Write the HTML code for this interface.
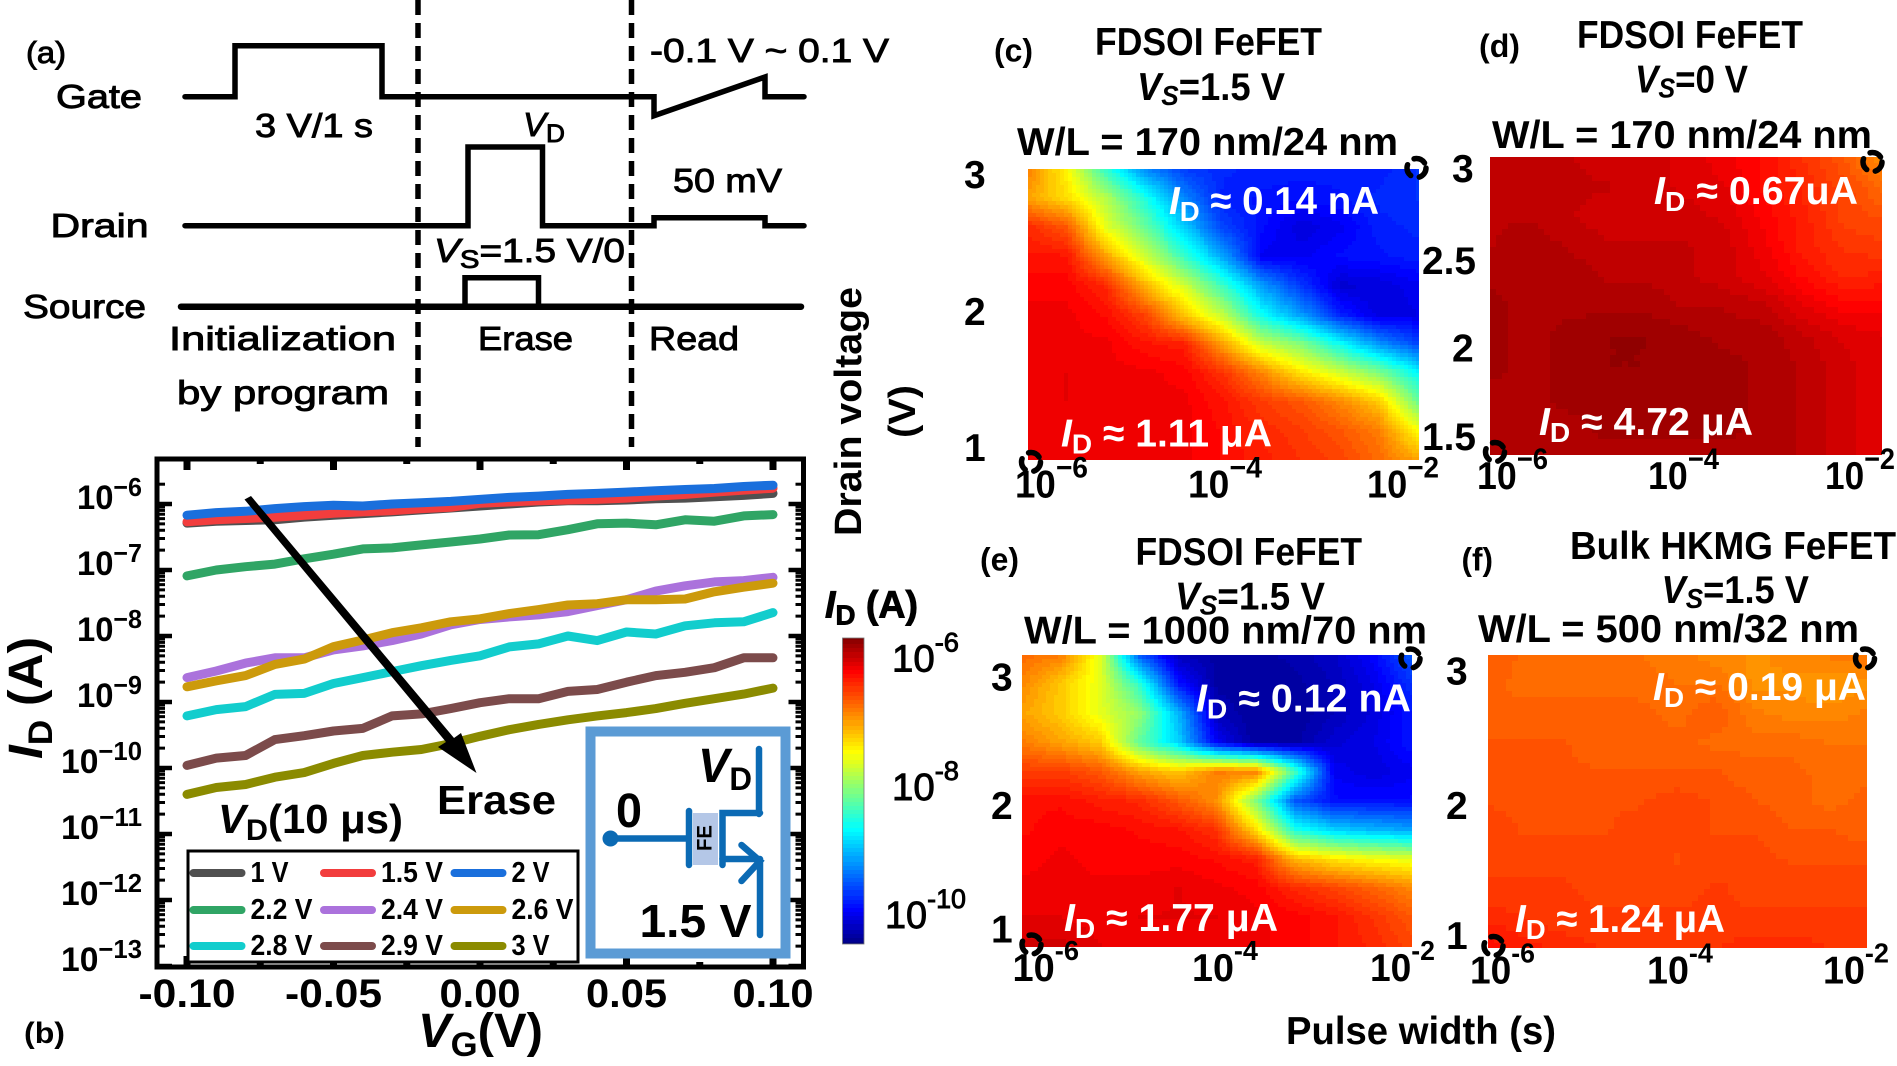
<!DOCTYPE html>
<html lang="en">
<head>
<meta charset="utf-8">
<title>FeFET erase characterization</title>
<style>
html,body{margin:0;padding:0;background:#fff;}
svg{display:block;font-family:"Liberation Sans",sans-serif;}
text{fill:#000;}
.r{stroke:#000;stroke-width:.9;}
.b{font-weight:bold;}
.w{fill:#fff;font-weight:bold;}
.i{font-style:italic;}
</style>
</head>
<body>
<svg id="figure" xmlns="http://www.w3.org/2000/svg" width="1897" height="1066" viewBox="0 0 1897 1066">

<g id="heat-c"></g>
<g id="heat-d"></g>
<g id="heat-e"></g>
<g id="heat-f"></g>
<g id="colorbar"></g>

<!-- panel a -->
<g>
  <g fill="none" stroke="#000" stroke-width="5.5" stroke-linejoin="miter" stroke-linecap="round">
    <path d="M185 96.7H235V45.7H382V96.7H654V115.7L765 77V96.7H804"/>
    <path d="M185 225.7H468V147H542.5V225.7H654V217.7H765V225.7H804"/>
    <path d="M181 306.7H801" stroke-width="6.5"/>
    <path d="M465 306.7V277.7H538.5V306.7"/>
  </g>
  <line x1="418" y1="0" x2="418" y2="447" stroke="#000" stroke-width="5.5" stroke-dasharray="15 8"/>
  <line x1="631.5" y1="0" x2="631.5" y2="447" stroke="#000" stroke-width="5.5" stroke-dasharray="15 8"/>
  <g font-size="33" class="r">
    <text x="26" y="63" textLength="40" lengthAdjust="spacingAndGlyphs" font-size="31">(a)</text>
    <text x="56" y="108" textLength="86" lengthAdjust="spacingAndGlyphs">Gate</text>
    <text x="255" y="137" textLength="118" lengthAdjust="spacingAndGlyphs">3 V/1 s</text>
    <text x="650" y="62" textLength="239" lengthAdjust="spacingAndGlyphs">-0.1 V ~ 0.1 V</text>
    <text x="523" y="136" textLength="42" lengthAdjust="spacingAndGlyphs"><tspan class="i">V</tspan><tspan font-size="25" dy="6">D</tspan></text>
    <text x="673" y="192" textLength="109" lengthAdjust="spacingAndGlyphs">50 mV</text>
    <text x="50.5" y="237" textLength="98" lengthAdjust="spacingAndGlyphs">Drain</text>
    <text x="434" y="262" textLength="191" lengthAdjust="spacingAndGlyphs"><tspan class="i">V</tspan><tspan font-size="25" dy="6">S</tspan><tspan dy="-6">=1.5 V/0</tspan></text>
    <text x="23" y="318" textLength="123" lengthAdjust="spacingAndGlyphs">Source</text>
    <text x="169" y="350" textLength="227" lengthAdjust="spacingAndGlyphs">Initialization</text>
    <text x="177" y="404" textLength="212" lengthAdjust="spacingAndGlyphs">by program</text>
    <text x="478" y="350" textLength="95" lengthAdjust="spacingAndGlyphs">Erase</text>
    <text x="649" y="350" textLength="90" lengthAdjust="spacingAndGlyphs">Read</text>
  </g>
</g>

<!-- panel b -->
<g>
  <g id="b-series"></g>
  <g id="b-axes"></g>
  <path d="M244.5 499.5L251 496L454 738L461 733L476.5 773L438 747L446 742Z" fill="#000"/>
  <text class="b" x="437" y="814" font-size="41" textLength="119" lengthAdjust="spacingAndGlyphs">Erase</text>
  <text class="b" x="218" y="833" font-size="41" textLength="185" lengthAdjust="spacingAndGlyphs"><tspan class="i">V</tspan><tspan font-size="30" dy="7">D</tspan><tspan dy="-7">(10 μs)</tspan></text>

  <rect x="188" y="851" width="390" height="111" fill="#fff" stroke="#000" stroke-width="3"/>
  <g id="b-legend"></g>

  <g>
    <rect x="590.5" y="731.5" width="195" height="222" fill="#fff" stroke="#5b9bd5" stroke-width="10"/>
    <rect x="693" y="813" width="25" height="52" fill="#b4c7e7"/>
    <g fill="none" stroke="#0b6ab4" stroke-width="6.5" stroke-linecap="round" stroke-linejoin="miter">
      <circle cx="610.5" cy="838.5" r="6" fill="#0b6ab4" stroke-width="4"/>
      <path d="M612 838.5H687"/>
      <path d="M689 811V865"/>
      <path d="M722.5 865V813H760M759 749V814"/>
      <path d="M722.5 859H760M760 861V935M741.5 845L760 861L741.5 881"/>
    </g>
    <text class="b" font-size="21" transform="translate(711.5,851) rotate(-90)" textLength="26" lengthAdjust="spacingAndGlyphs">FE</text>
    <text class="b" x="698" y="782" font-size="48" textLength="54" lengthAdjust="spacingAndGlyphs"><tspan class="i">V</tspan><tspan font-size="32" dy="8">D</tspan></text>
    <text class="b" x="616" y="827" font-size="48" textLength="26" lengthAdjust="spacingAndGlyphs">0</text>
    <text class="b" x="639.5" y="937" font-size="46" textLength="112" lengthAdjust="spacingAndGlyphs">1.5 V</text>
  </g>

  <text class="b" font-size="48" transform="translate(42,759) rotate(-90)" textLength="122" lengthAdjust="spacingAndGlyphs"><tspan class="i">I</tspan><tspan font-size="34" dy="10">D</tspan><tspan dy="-10"> (A)</tspan></text>
  <text class="b" x="418" y="1047" font-size="48" textLength="125" lengthAdjust="spacingAndGlyphs"><tspan class="i">V</tspan><tspan font-size="34" dy="9">G</tspan><tspan dy="-9">(V)</tspan></text>
  <text class="b" x="24" y="1043" font-size="30" textLength="41" lengthAdjust="spacingAndGlyphs">(b)</text>
</g>

<!-- shared axis titles -->
<text class="b" font-size="38" transform="translate(861,536) rotate(-90)" textLength="249" lengthAdjust="spacingAndGlyphs">Drain voltage</text>
<text class="b" font-size="38" transform="translate(915,438) rotate(-90)" textLength="53" lengthAdjust="spacingAndGlyphs">(V)</text>
<text class="b" x="1286" y="1044" font-size="39" textLength="270" lengthAdjust="spacingAndGlyphs">Pulse width (s)</text>

<!-- colorbar labels -->
<g font-size="38" class="r">
  <text x="825" y="617.5" textLength="93" lengthAdjust="spacingAndGlyphs" class="b"><tspan class="i">I</tspan><tspan font-size="28" dy="7">D</tspan><tspan dy="-7"> (A)</tspan></text>
  <text x="892" y="671.5" textLength="67" lengthAdjust="spacingAndGlyphs">10<tspan font-size="27" dy="-20">-6</tspan></text>
  <text x="892" y="800" textLength="67" lengthAdjust="spacingAndGlyphs">10<tspan font-size="27" dy="-20">-8</tspan></text>
  <text x="885" y="928" textLength="81" lengthAdjust="spacingAndGlyphs">10<tspan font-size="27" dy="-20">-10</tspan></text>
</g>

<!-- panel c text -->
<g class="b" font-size="39">
  <text x="994" y="61.5" font-size="32" textLength="39" lengthAdjust="spacingAndGlyphs">(c)</text>
  <text x="1095" y="55" textLength="227" lengthAdjust="spacingAndGlyphs">FDSOI FeFET</text>
  <text x="1137" y="100" textLength="148" lengthAdjust="spacingAndGlyphs"><tspan class="i">V</tspan><tspan font-size="28" dy="5" class="i">S</tspan><tspan dy="-5">=1.5 V</tspan></text>
  <text x="1017" y="155" textLength="381" lengthAdjust="spacingAndGlyphs">W/L = 170 nm/24 nm</text>
  <text class="w" x="1169" y="214" textLength="210" lengthAdjust="spacingAndGlyphs"><tspan class="i">I</tspan><tspan font-size="28" dy="7">D</tspan><tspan dy="-7"> ≈ 0.14 nA</tspan></text>
  <text class="w" x="1061" y="446.5" textLength="211" lengthAdjust="spacingAndGlyphs"><tspan class="i">I</tspan><tspan font-size="28" dy="7">D</tspan><tspan dy="-7"> ≈ 1.11 μA</tspan></text>
  <text x="964" y="188">3</text>
  <text x="964" y="325">2</text>
  <text x="964" y="461">1</text>
  <text x="1015" y="497.5" textLength="73" lengthAdjust="spacingAndGlyphs">10<tspan font-size="30" dy="-20">−6</tspan></text>
  <text x="1188" y="497.5" textLength="74" lengthAdjust="spacingAndGlyphs">10<tspan font-size="30" dy="-20">−4</tspan></text>
  <text x="1367" y="497.5" textLength="72" lengthAdjust="spacingAndGlyphs">10<tspan font-size="30" dy="-20">−2</tspan></text>
</g>

<!-- panel d text -->
<g class="b" font-size="39">
  <text x="1479" y="57" font-size="32" textLength="41" lengthAdjust="spacingAndGlyphs">(d)</text>
  <text x="1577" y="48" textLength="226" lengthAdjust="spacingAndGlyphs">FDSOI FeFET</text>
  <text x="1635" y="92.5" textLength="113" lengthAdjust="spacingAndGlyphs"><tspan class="i">V</tspan><tspan font-size="28" dy="5" class="i">S</tspan><tspan dy="-5">=0 V</tspan></text>
  <text x="1492" y="148" textLength="380" lengthAdjust="spacingAndGlyphs">W/L = 170 nm/24 nm</text>
  <text class="w" x="1654" y="204" textLength="204" lengthAdjust="spacingAndGlyphs"><tspan class="i">I</tspan><tspan font-size="28" dy="7">D</tspan><tspan dy="-7"> ≈ 0.67uA</tspan></text>
  <text class="w" x="1539" y="435" textLength="214" lengthAdjust="spacingAndGlyphs"><tspan class="i">I</tspan><tspan font-size="28" dy="7">D</tspan><tspan dy="-7"> ≈ 4.72 μA</tspan></text>
  <text x="1452" y="182">3</text>
  <text x="1422" y="274" textLength="54" lengthAdjust="spacingAndGlyphs">2.5</text>
  <text x="1452" y="361.5">2</text>
  <text x="1422" y="450" textLength="54" lengthAdjust="spacingAndGlyphs">1.5</text>
  <text x="1477" y="489" textLength="71" lengthAdjust="spacingAndGlyphs">10<tspan font-size="30" dy="-20">−6</tspan></text>
  <text x="1648" y="489" textLength="71" lengthAdjust="spacingAndGlyphs">10<tspan font-size="30" dy="-20">−4</tspan></text>
  <text x="1825" y="489" textLength="70" lengthAdjust="spacingAndGlyphs">10<tspan font-size="30" dy="-20">−2</tspan></text>
</g>

<!-- panel e text -->
<g class="b" font-size="39">
  <text x="980" y="570.5" font-size="32" textLength="39" lengthAdjust="spacingAndGlyphs">(e)</text>
  <text x="1135.5" y="565" textLength="226.5" lengthAdjust="spacingAndGlyphs">FDSOI FeFET</text>
  <text x="1175" y="609.5" textLength="150" lengthAdjust="spacingAndGlyphs"><tspan class="i">V</tspan><tspan font-size="28" dy="5" class="i">S</tspan><tspan dy="-5">=1.5 V</tspan></text>
  <text x="1024" y="643.5" textLength="403" lengthAdjust="spacingAndGlyphs">W/L = 1000 nm/70 nm</text>
  <text class="w" x="1196" y="711.5" textLength="215" lengthAdjust="spacingAndGlyphs"><tspan class="i">I</tspan><tspan font-size="28" dy="7">D</tspan><tspan dy="-7"> ≈ 0.12 nA</tspan></text>
  <text class="w" x="1064" y="931" textLength="214" lengthAdjust="spacingAndGlyphs"><tspan class="i">I</tspan><tspan font-size="28" dy="7">D</tspan><tspan dy="-7"> ≈ 1.77 μA</tspan></text>
  <text x="991" y="690.5">3</text>
  <text x="991" y="819">2</text>
  <text x="991" y="942.5">1</text>
  <text x="1012.5" y="981" textLength="66.5" lengthAdjust="spacingAndGlyphs">10<tspan font-size="28" dy="-21">-6</tspan></text>
  <text x="1192" y="981" textLength="66" lengthAdjust="spacingAndGlyphs">10<tspan font-size="28" dy="-21">-4</tspan></text>
  <text x="1370" y="981" textLength="65" lengthAdjust="spacingAndGlyphs">10<tspan font-size="28" dy="-21">-2</tspan></text>
</g>

<!-- panel f text -->
<g class="b" font-size="39">
  <text x="1461.5" y="570.5" font-size="32" textLength="31.5" lengthAdjust="spacingAndGlyphs">(f)</text>
  <text x="1570" y="559" textLength="326" lengthAdjust="spacingAndGlyphs">Bulk HKMG FeFET</text>
  <text x="1661.5" y="603" textLength="147.5" lengthAdjust="spacingAndGlyphs"><tspan class="i">V</tspan><tspan font-size="28" dy="5" class="i">S</tspan><tspan dy="-5">=1.5 V</tspan></text>
  <text x="1478" y="642" textLength="381" lengthAdjust="spacingAndGlyphs">W/L = 500 nm/32 nm</text>
  <text class="w" x="1653" y="700" textLength="213" lengthAdjust="spacingAndGlyphs"><tspan class="i">I</tspan><tspan font-size="28" dy="7">D</tspan><tspan dy="-7"> ≈ 0.19 μA</tspan></text>
  <text class="w" x="1515" y="932" textLength="210" lengthAdjust="spacingAndGlyphs"><tspan class="i">I</tspan><tspan font-size="28" dy="7">D</tspan><tspan dy="-7"> ≈ 1.24 μA</tspan></text>
  <text x="1446" y="684.5">3</text>
  <text x="1446" y="819">2</text>
  <text x="1446" y="949">1</text>
  <text x="1470" y="983.5" textLength="65" lengthAdjust="spacingAndGlyphs">10<tspan font-size="28" dy="-21">-6</tspan></text>
  <text x="1647" y="983.5" textLength="66" lengthAdjust="spacingAndGlyphs">10<tspan font-size="28" dy="-21">-4</tspan></text>
  <text x="1823" y="983.5" textLength="66" lengthAdjust="spacingAndGlyphs">10<tspan font-size="28" dy="-21">-2</tspan></text>
</g>

<!-- dashed corner markers -->
<g fill="none" stroke="#000" stroke-width="5.5" stroke-dasharray="12 9" stroke-linecap="round">
  <circle cx="1416.5" cy="168" r="9.5"/>
  <circle cx="1031" cy="462" r="9.5"/>
  <circle cx="1872.5" cy="162" r="9.5"/>
  <circle cx="1495" cy="452" r="9.5"/>
  <circle cx="1410.5" cy="658.5" r="9.5"/>
  <circle cx="1031.5" cy="944.5" r="9.5"/>
  <circle cx="1865" cy="658.5" r="9.5"/>
  <circle cx="1493.5" cy="946" r="9.5"/>
</g>
</svg>

<script>
// ---------- Panel (b) data: log10(ID / A) read at each VG ----------
const vgValues = [-0.10,-0.09,-0.08,-0.07,-0.06,-0.05,-0.04,-0.03,-0.02,-0.01,0,0.01,0.02,0.03,0.04,0.05,0.06,0.07,0.08,0.09,0.10];
const logId1V   = [-6.29,-6.26,-6.25,-6.24,-6.20,-6.17,-6.145,-6.12,-6.09,-6.06,-6.03,-6.00,-5.97,-5.95,-5.95,-5.94,-5.92,-5.91,-5.89,-5.87,-5.84];
const logId1p5V = [-6.27,-6.24,-6.22,-6.20,-6.17,-6.14,-6.12,-6.10,-6.07,-6.05,-5.99,-5.97,-5.95,-5.94,-5.93,-5.91,-5.88,-5.855,-5.82,-5.79,-5.76];
const logId2V   = [-6.17,-6.13,-6.11,-6.07,-6.04,-6.02,-6.03,-6.00,-5.98,-5.96,-5.93,-5.90,-5.88,-5.855,-5.84,-5.82,-5.80,-5.78,-5.765,-5.735,-5.715];
const logId2p2V = [-7.09,-7.00,-6.95,-6.91,-6.83,-6.76,-6.68,-6.665,-6.62,-6.575,-6.53,-6.47,-6.465,-6.39,-6.30,-6.29,-6.315,-6.24,-6.26,-6.18,-6.16];
const logId2p4V = [-8.63,-8.53,-8.41,-8.33,-8.33,-8.21,-8.15,-8.07,-7.97,-7.83,-7.75,-7.71,-7.68,-7.63,-7.54,-7.45,-7.32,-7.24,-7.18,-7.16,-7.11];
const logId2p6V = [-8.77,-8.68,-8.60,-8.43,-8.35,-8.16,-8.06,-7.95,-7.875,-7.785,-7.74,-7.66,-7.60,-7.53,-7.51,-7.45,-7.45,-7.44,-7.33,-7.26,-7.20];
const logId2p8V = [-9.21,-9.115,-9.07,-8.885,-8.87,-8.72,-8.63,-8.54,-8.45,-8.37,-8.30,-8.165,-8.12,-8.00,-8.07,-7.94,-7.97,-7.845,-7.80,-7.785,-7.645];
const logId2p9V = [-9.96,-9.85,-9.81,-9.57,-9.51,-9.44,-9.40,-9.21,-9.18,-9.10,-9.01,-8.95,-8.95,-8.84,-8.81,-8.70,-8.60,-8.55,-8.48,-8.33,-8.33];
const logId3V   = [-10.40,-10.295,-10.25,-10.14,-10.07,-9.93,-9.81,-9.76,-9.72,-9.63,-9.52,-9.42,-9.34,-9.27,-9.21,-9.16,-9.10,-9.02,-8.95,-8.88,-8.79];
const seriesLabels = ["1 V","1.5 V","2 V","2.2 V","2.4 V","2.6 V","2.8 V","2.9 V","3 V"];
const seriesValues = [logId1V,logId1p5V,logId2V,logId2p2V,logId2p4V,logId2p6V,logId2p8V,logId2p9V,logId3V];
const xTickLabels = ["-0.10","-0.05","0.00","0.05","0.10"];
const xTickValues = [-0.10,-0.05,0,0.05,0.10];
const yTickExponents = [-6,-7,-8,-9,-10,-11,-12,-13];

// ---------- Heatmap data: log10(ID / A), rows from top (3 V) to bottom, columns 1e-6 s to 1e-2 s ----------
const heatmapC = [
[-6.85,-7.48,-8.48,-9.3,-9.68,-9.78,-9.83,-9.83,-9.83,-9.83,-9.73],
[-7.04,-7.33,-7.86,-8.58,-9.3,-9.83,-9.88,-9.92,-9.88,-9.78,-9.73],
[-6.42,-6.66,-7.62,-8.2,-8.96,-9.64,-9.92,-10.12,-10.02,-9.83,-9.78],
[-6.32,-6.32,-7.04,-7.72,-8.44,-9.16,-10.02,-10.02,-9.92,-9.88,-9.83],
[-6.23,-6.23,-6.42,-7.14,-7.72,-8.44,-9.2,-9.73,-10.16,-10.12,-10.02],
[-6.18,-6.18,-6.28,-6.56,-7.24,-7.81,-8.68,-9.2,-9.83,-10.12,-10.07],
[-6.18,-6.18,-6.18,-6.32,-6.37,-7.04,-7.76,-8.1,-8.68,-9.25,-9.64],
[-6.18,-6.13,-6.18,-6.18,-6.23,-6.47,-6.9,-7.38,-7.72,-8.1,-8.72],
[-6.18,-6.13,-6.18,-6.18,-6.18,-6.32,-6.52,-6.66,-6.9,-7.24,-8.2],
[-6.18,-6.18,-6.18,-6.18,-6.18,-6.28,-6.42,-6.52,-6.66,-6.85,-7.52],
[-6.18,-6.18,-6.18,-6.18,-6.18,-6.28,-6.37,-6.47,-6.56,-6.76,-7.04]];
const heatmapD = [
[-5.99,-5.99,-5.99,-6.04,-6.04,-6.08,-6.18,-6.28,-6.47,-6.66,-6.95],
[-5.99,-5.99,-5.99,-5.99,-6.04,-6.08,-6.13,-6.28,-6.42,-6.56,-6.76],
[-5.94,-5.94,-5.99,-6.04,-6.04,-6.04,-6.08,-6.23,-6.37,-6.56,-6.61],
[-5.94,-5.89,-5.94,-5.99,-5.99,-5.99,-6.04,-6.18,-6.37,-6.47,-6.52],
[-5.89,-5.89,-5.89,-5.94,-5.94,-5.99,-6.04,-6.13,-6.28,-6.42,-6.37],
[-5.84,-5.89,-5.89,-5.89,-5.89,-5.94,-5.94,-5.99,-6.13,-6.23,-6.23],
[-5.84,-5.89,-5.84,-5.8,-5.8,-5.84,-5.89,-5.89,-5.99,-6.08,-6.13],
[-5.84,-5.89,-5.84,-5.8,-5.8,-5.8,-5.84,-5.89,-5.94,-6.04,-6.13],
[-5.89,-5.89,-5.84,-5.84,-5.8,-5.84,-5.84,-5.89,-5.94,-6.04,-6.13],
[-5.89,-5.89,-5.89,-5.84,-5.84,-5.84,-5.84,-5.89,-5.94,-6.04,-6.13],
[-5.89,-5.89,-5.89,-5.89,-5.89,-5.89,-5.89,-5.89,-5.94,-6.04,-6.13]];
const heatmapE = [
[-6.76,-6.85,-7.62,-9.54,-10.26,-10.36,-10.36,-10.31,-10.21,-9.97,-9.54],
[-6.9,-7.24,-7.62,-8.48,-9.88,-10.36,-10.4,-10.36,-10.26,-10.07,-9.73],
[-7.04,-7.24,-7.62,-8.0,-9.06,-10.26,-10.4,-10.4,-10.26,-10.12,-9.88],
[-6.85,-7.04,-7.24,-8.24,-8.92,-10.02,-10.4,-10.36,-10.16,-10.07,-9.88],
[-6.52,-6.52,-6.66,-7.04,-7.24,-6.85,-6.85,-8.34,-10.02,-10.12,-10.02],
[-6.28,-6.28,-6.37,-6.42,-6.66,-6.95,-8.1,-9.54,-9.92,-9.92,-9.92],
[-6.28,-6.23,-6.23,-6.28,-6.32,-6.47,-7.33,-8.58,-8.92,-9.06,-9.16],
[-6.23,-6.18,-6.23,-6.23,-6.23,-6.28,-6.37,-7.14,-7.38,-7.52,-7.62],
[-6.18,-6.18,-6.18,-6.18,-6.13,-6.18,-6.23,-6.42,-6.56,-6.71,-6.9],
[-6.13,-6.13,-6.18,-6.13,-6.13,-6.13,-6.18,-6.23,-6.32,-6.47,-6.66],
[-6.04,-6.04,-6.13,-6.18,-6.18,-6.18,-6.18,-6.23,-6.32,-6.42,-6.56]];
const heatmapF = [
[-6.66,-6.76,-6.76,-6.76,-6.8,-6.85,-6.9,-6.95,-6.9,-6.85,-6.8],
[-6.71,-6.76,-6.76,-6.76,-6.76,-6.8,-6.8,-6.95,-6.95,-7.0,-6.95],
[-6.71,-6.71,-6.71,-6.71,-6.71,-6.76,-6.66,-6.85,-6.9,-6.9,-6.85],
[-6.66,-6.66,-6.66,-6.71,-6.71,-6.71,-6.76,-6.76,-6.76,-6.8,-6.8],
[-6.61,-6.61,-6.66,-6.66,-6.66,-6.66,-6.66,-6.71,-6.71,-6.76,-6.76],
[-6.61,-6.61,-6.61,-6.61,-6.61,-6.56,-6.61,-6.66,-6.71,-6.76,-6.71],
[-6.56,-6.61,-6.61,-6.61,-6.56,-6.56,-6.61,-6.61,-6.66,-6.66,-6.71],
[-6.56,-6.56,-6.56,-6.56,-6.56,-6.61,-6.56,-6.56,-6.61,-6.61,-6.61],
[-6.52,-6.52,-6.52,-6.56,-6.56,-6.56,-6.52,-6.56,-6.56,-6.56,-6.56],
[-6.42,-6.47,-6.52,-6.52,-6.52,-6.52,-6.52,-6.52,-6.52,-6.52,-6.52],
[-6.28,-6.37,-6.42,-6.47,-6.47,-6.47,-6.47,-6.42,-6.42,-6.47,-6.47]];
const colorDomain = [-10.5, -5.7];

const NS = "http://www.w3.org/2000/svg";
const seriesColors = ["#505050","#f23d3d","#1a6fdc","#30a565","#ab72dc","#cc9a0c","#12cdcd","#7c4b4b","#8b8b00"];

function svgEl(tag, attrs, parent){
  const el = document.createElementNS(NS, tag);
  for (const k in attrs) el.setAttribute(k, attrs[k]);
  parent.appendChild(el);
  return el;
}

// ---------- colour scale ----------
const jetStops = [[0,0,0,130],[0.11,0,0,255],[0.375,0,255,255],[0.625,255,255,0],[0.89,255,0,0],[1,128,0,0]];
function jet(t){
  t = Math.max(0, Math.min(1, t));
  for (let i = 1; i < jetStops.length; i++){
    if (t <= jetStops[i][0]){
      const a = jetStops[i-1], b = jetStops[i];
      const f = (t - a[0]) / (b[0] - a[0]);
      return "rgb(" + Math.round(a[1]+f*(b[1]-a[1])) + "," + Math.round(a[2]+f*(b[2]-a[2])) + "," + Math.round(a[3]+f*(b[3]-a[3])) + ")";
    }
  }
  return "rgb(128,0,0)";
}
function colorOf(logValue){
  const t = (logValue - colorDomain[0]) / (colorDomain[1] - colorDomain[0]);
  return jet(Math.round(t * 72) / 72);
}

// ---------- heatmaps ----------
function sampleGrid(grid, u, v){
  const rows = grid.length - 1, cols = grid[0].length - 1;
  const fy = Math.min(rows - 1e-6, v * rows), fx = Math.min(cols - 1e-6, u * cols);
  const r = Math.floor(fy), c = Math.floor(fx), dy = fy - r, dx = fx - c;
  return grid[r][c]*(1-dx)*(1-dy) + grid[r][c+1]*dx*(1-dy) + grid[r+1][c]*(1-dx)*dy + grid[r+1][c+1]*dx*dy;
}
function drawHeatmap(id, grid, left, top, width, height, step){
  const g = document.getElementById(id);
  const x0 = Math.round(left), y0 = Math.round(top), x1 = Math.round(left + width), y1 = Math.round(top + height);
  for (let py = y0; py < y1; py += step){
    for (let px = x0; px < x1; px += step){
      const w = Math.min(step, x1 - px), h = Math.min(step, y1 - py);
      const val = sampleGrid(grid, (px + w/2 - left) / width, (py + h/2 - top) / height);
      const cell = document.createElementNS(NS, "rect");
      
      
      cell.setAttribute("x", px);
      cell.setAttribute("y", py);
      cell.setAttribute("width", w);
      cell.setAttribute("height", h);
      cell.setAttribute("fill", colorOf(val));
      cell.setAttribute("shape-rendering", "crispEdges");
      g.appendChild(cell);
    }
  }
}
drawHeatmap("heat-c", heatmapC, 1028, 169, 390.7, 291, 4);
drawHeatmap("heat-d", heatmapD, 1489.7, 157.3, 392.6, 297.7, 6);
drawHeatmap("heat-e", heatmapE, 1022.4, 654.8, 389.4, 291.7, 4);
drawHeatmap("heat-f", heatmapF, 1488.3, 655, 379, 293, 6);

// ---------- colorbar ----------
(function(){
  const g = document.getElementById("colorbar");
  const top = 638, bottom = 944, left = 842.5, width = 21.5;
  for (let y = top; y < bottom; y += 2){
    const swatch = document.createElementNS(NS, "rect");
    
    
    const logVal = colorDomain[1] - ((y + 1 - top) / (bottom - top)) * (colorDomain[1] - colorDomain[0]);
    swatch.setAttribute("x", left);
    swatch.setAttribute("y", y);
    swatch.setAttribute("width", width);
    swatch.setAttribute("height", 2);
    swatch.setAttribute("fill", colorOf(logVal));
    swatch.setAttribute("shape-rendering", "crispEdges");
    g.appendChild(swatch);
  }
  const edge = svgEl("rect", {x:left, y:top, width:width, height:bottom-top, fill:"none", stroke:"#777", "stroke-width":0.8}, g);
  
  
})();

// ---------- panel (b) ----------
const plotB = {left:157, right:803.5, top:459, bottom:967};
function xB(v){ return 480 + v * 2930; }
function yB(logI){ return 504 + (-6 - logI) * 66; }

(function(){
  const sg = document.getElementById("b-series");
  seriesValues.forEach(function(vals, i){
    let d = "";
    vals.forEach(function(v, j){ d += (j ? "L" : "M") + xB(vgValues[j]).toFixed(1) + " " + yB(v).toFixed(1); });
    const line = document.createElementNS(NS, "path");
    
    
    line.setAttribute("d", d);
    line.setAttribute("fill", "none");
    line.setAttribute("stroke", seriesColors[i]);
    line.setAttribute("stroke-width", 9);
    line.setAttribute("stroke-linejoin", "round");
    line.setAttribute("stroke-linecap", "round");
    sg.appendChild(line);
  });

  const ag = document.getElementById("b-axes");
  const frame = svgEl("rect", {x:plotB.left, y:plotB.top, width:plotB.right-plotB.left, height:plotB.bottom-plotB.top, fill:"none", stroke:"#000", "stroke-width":5}, ag);
  
  

  function tick(x1, y1, x2, y2, w){
    const t = svgEl("line", {x1:x1, y1:y1, x2:x2, y2:y2, stroke:"#000", "stroke-width":w}, ag);
    
    
  }
  xTickValues.forEach(function(v, i){
    const x = xB(v);
    tick(x, plotB.top, x, plotB.top + 11, 7);
    tick(x, plotB.bottom, x, plotB.bottom - 11, 7);
    const label = svgEl("text", {x:x, y:1007, "text-anchor":"middle", "font-size":40, "font-weight":"bold", textLength: xTickLabels[i].length > 4 ? 97 : 81, lengthAdjust:"spacingAndGlyphs"}, ag);
    
    
    label.textContent = xTickLabels[i];
    if (i < xTickValues.length - 1){
      const mx = xB((v + xTickValues[i+1]) / 2);
      tick(mx, plotB.top, mx, plotB.top + 5, 7);
      tick(mx, plotB.bottom, mx, plotB.bottom - 5, 7);
    }
  });
  yTickExponents.forEach(function(e){
    const y = yB(e);
    tick(plotB.left, y, plotB.left + 15, y, 4.5);
    tick(plotB.right, y, plotB.right - 15, y, 4.5);
    const label = svgEl("text", {x:142, y:y + 5, "text-anchor":"end", "font-size":34, "font-weight":"bold", textLength: e <= -10 ? 81 : 65, lengthAdjust:"spacingAndGlyphs"}, ag);
    
    
    label.appendChild(document.createTextNode("10"));
    const sup = svgEl("tspan", {"font-size":26, dy:-13}, label);
    sup.textContent = "\u2212" + Math.abs(e);
    for (let m = 2; m <= 9; m += 1){
      const my = yB(e - 1 + Math.log10(m));
      if (e - 1 + Math.log10(m) > -13.001){
        tick(plotB.left, my, plotB.left + 8, my, 3);
        tick(plotB.right, my, plotB.right - 8, my, 3);
      }
    }
  });
  const topMinor = yB(-5.7);
  tick(plotB.left, topMinor, plotB.left + 8, topMinor, 3);
  tick(plotB.right, topMinor, plotB.right - 8, topMinor, 3);

  const lg = document.getElementById("b-legend");
  const legendColumns = [190.5, 321, 451.5];
  const legendRows = [873, 910, 946];
  seriesLabels.forEach(function(name, i){
    const c = legendColumns[i % 3], r = legendRows[Math.floor(i / 3)];
    const swatch = svgEl("line", {x1:c + 3, y1:r, x2:c + 51, y2:r, stroke:seriesColors[i], "stroke-width":8, "stroke-linecap":"round"}, lg);
    
    
    const label = svgEl("text", {x:c + 60, y:r + 9, "font-size":29, "font-weight":"bold", textLength: name.length > 3 ? 62 : 38, lengthAdjust:"spacingAndGlyphs"}, lg);
    
    
    label.textContent = name;
  });
})();
</script>
</body>
</html>
